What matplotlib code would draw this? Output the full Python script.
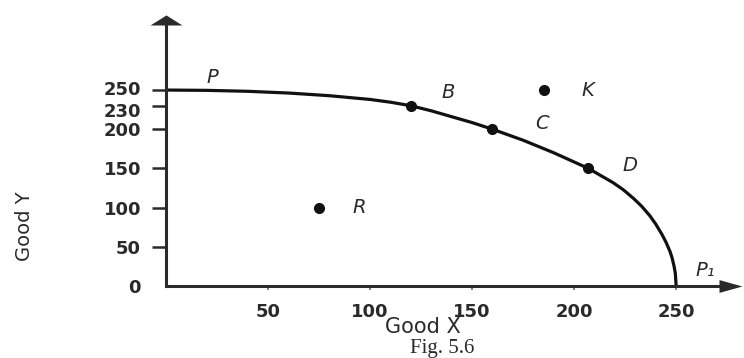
import numpy as np
import matplotlib.pyplot as plt
from matplotlib.transforms import ScaledTranslation

# production possibility curve (Good X, Good Y)
curve_x = [0, 20, 40, 60, 80, 100, 110, 120, 130, 140, 150, 160, 175, 190, 207,
           213, 219, 224, 229, 233, 237, 240, 243, 245, 247, 248, 249, 249.6, 250]
curve_y = [250, 249.6, 248.4, 246.2, 242.8, 238, 234.5, 230, 223.5, 216, 208.5, 200,
           186, 170, 150, 141, 132, 123, 112, 102, 90, 79, 66, 56, 44, 36, 25, 16, 0]

# marked combinations on the curve
on_labels = ['B', 'C', 'D']
on_x = [120, 160, 207]
on_y = [230, 200, 150]

# combinations off the curve
off_labels = ['R', 'K']
off_x = [75, 185]
off_y = [100, 250]

x_ticks = [50, 100, 150, 200, 250]
y_ticks = [0, 50, 100, 150, 200, 230, 250]

AXIS = '#2a2a2a'
INK = '#111111'
TXT = '#2a2a2a'

fig = plt.figure(figsize=(7.44, 3.58), dpi=100)
ax = fig.add_axes([0.2231, 0.2011, 0.7433, 0.7291])
ax.set_xlim(0, 271)
ax.set_ylim(0, 333)

# curve and points
ax.plot(curve_x, curve_y, color=INK, lw=2.3, solid_joinstyle='round',
        solid_capstyle='butt', clip_on=False)
ax.plot(on_x, on_y, 'o', color=INK, ms=7, clip_on=False)
ax.plot(off_x, off_y, 'o', color=INK, ms=7, clip_on=False)

lab = dict(fontsize=14, style='italic', color=TXT, ha='center', va='center',
           textcoords='offset pixels')
offsets = {'B': (37, 13), 'C': (50, 6), 'D': (42, 3), 'R': (40, 0), 'K': (44, 0)}
for name, x, y in zip(on_labels + off_labels, on_x + off_x, on_y + off_y):
    ax.annotate(name, (x, y), xytext=offsets[name], **lab)
ax.annotate('P', (curve_x[0], curve_y[0]), xytext=(46, 13), **lab)
ax.annotate('P₁', (curve_x[-1], curve_y[-1]), xytext=(29, 16), **lab)

# axes with arrow heads
for side in ['top', 'right']:
    ax.spines[side].set_visible(False)
for side in ['left', 'bottom']:
    ax.spines[side].set_linewidth(2.2)
    ax.spines[side].set_color(AXIS)
ax.plot(0, 1, marker=[(-1, 0), (1, 0), (0, 0.63)], ms=23, color=AXIS, mew=0,
        transform=ax.transAxes, clip_on=False)
ax.plot(1, 0, marker=[(0, -0.28), (0, 0.28), (1, 0)], ms=33, color=AXIS, mew=0,
        transform=ax.transAxes, clip_on=False)

ax.set_xticks(x_ticks)
ax.set_yticks(y_ticks)
ax.tick_params(axis='y', direction='out', length=10, width=1.8, color=AXIS, pad=8,
               labelsize=13, labelcolor=TXT)
ax.tick_params(axis='x', direction='out', length=3, width=1.2, color='#666666', pad=9,
               labelsize=13, labelcolor=TXT)
for t in ax.get_xticklabels() + ax.get_yticklabels():
    t.set_fontweight('bold')
ax.yaxis.get_major_ticks()[0].tick1line.set_visible(False)

# 250 and 230 sit close together; spread their labels a little as in the figure
ylabs = ax.get_yticklabels()
ylabs[-1].set_transform(ylabs[-1].get_transform() + ScaledTranslation(0, 1.5 / 72, fig.dpi_scale_trans))
ylabs[-2].set_transform(ylabs[-2].get_transform() + ScaledTranslation(0, -3 / 72, fig.dpi_scale_trans))

ax.set_xlabel('Good X', fontsize=15, color=TXT)
ax.xaxis.set_label_coords(0.465, -0.12)
ax.set_ylabel('Good Y', fontsize=14, color=TXT)
ax.yaxis.set_label_coords(-0.239, 0.23)

fig.text(442 / 744, 1 - 348 / 358, 'Fig. 5.6', family='Liberation Serif', fontsize=15,
         color=TXT, ha='center', va='center')

fig.savefig('out.png', dpi=100, facecolor='white')
